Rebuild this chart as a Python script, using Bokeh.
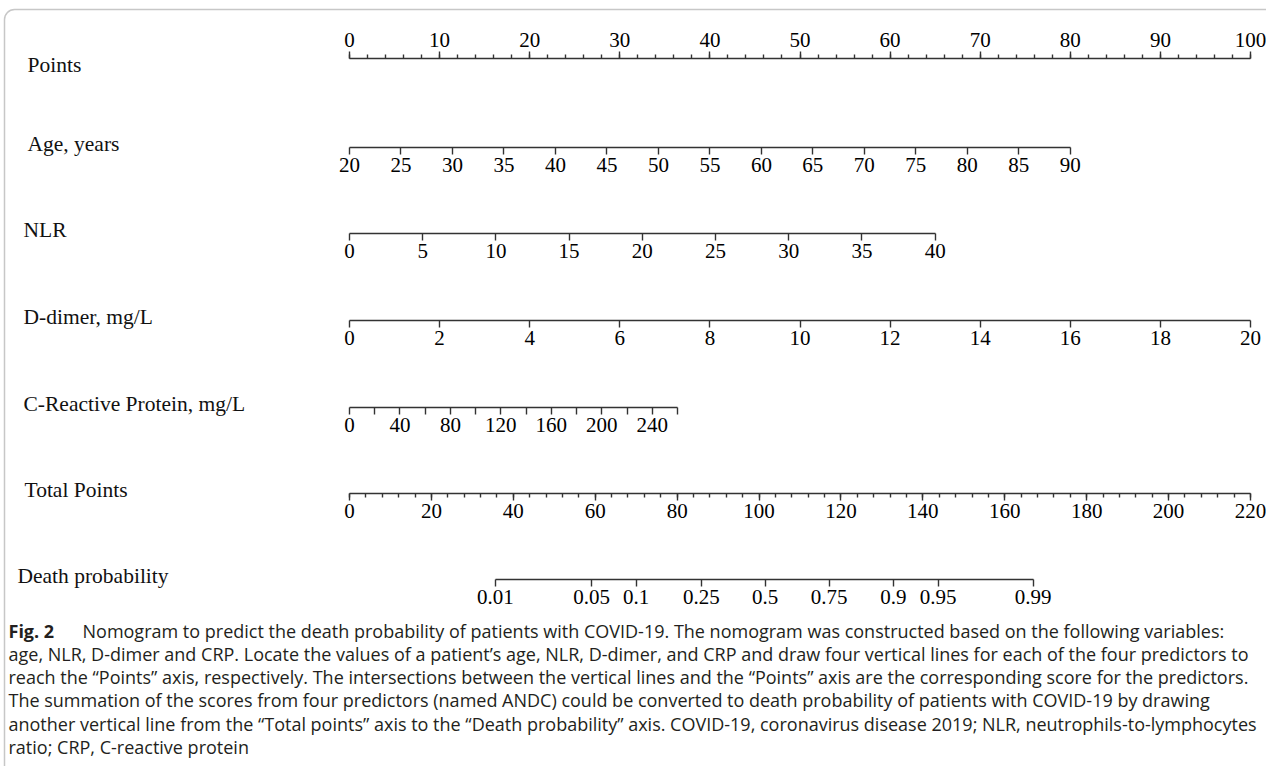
from bokeh.plotting import figure
from bokeh.models import (LinearAxis, Range1d, FixedTicker, SingleIntervalTicker,
                          Label, BoxAnnotation)
from bokeh.embed import file_html
from bokeh.resources import INLINE

# ---------------- data ----------------
row_names = ["Points", "Age, years", "NLR", "D-dimer, mg/L",
             "C-Reactive Protein, mg/L", "Total Points", "Death probability"]

points_ticks = [0, 10, 20, 30, 40, 50, 60, 70, 80, 90, 100]
points_minor_per_major = 5

age_ticks = [20, 25, 30, 35, 40, 45, 50, 55, 60, 65, 70, 75, 80, 85, 90]
age_points_at_max = 80.0

nlr_ticks = [0, 5, 10, 15, 20, 25, 30, 35, 40]
nlr_points_at_max = 65.0

ddimer_ticks = [0, 2, 4, 6, 8, 10, 12, 14, 16, 18, 20]
ddimer_points_at_max = 100.0

crp_ticks = [0, 20, 40, 60, 80, 100, 120, 140, 160, 180, 200, 220, 240, 260]
crp_tick_labels = ["0", "", "40", "", "80", "", "120", "", "160", "", "200", "", "240", ""]
crp_points_at_max = 36.4

total_ticks = [0, 20, 40, 60, 80, 100, 120, 140, 160, 180, 200, 220]
total_minor_per_major = 5

death_tick_labels = ["0.01", "0.05", "0.1", "0.25", "0.5", "0.75", "0.9", "0.95", "0.99"]
death_total_points = [35.6, 59.1, 70.0, 85.9, 101.5, 117.1, 132.8, 143.7, 166.9]

caption_bold = "Fig. 2"
caption_lines = [
    "Nomogram to predict the death probability of patients with COVID-19. The nomogram was constructed based on the following variables:",
    "age, NLR, D-dimer and CRP. Locate the values of a patient\u2019s age, NLR, D-dimer, and CRP and draw four vertical lines for each of the four predictors to",
    "reach the \u201cPoints\u201d axis, respectively. The intersections between the vertical lines and the \u201cPoints\u201d axis are the corresponding score for the predictors.",
    "The summation of the scores from four predictors (named ANDC) could be converted to death probability of patients with COVID-19 by drawing",
    "another vertical line from the \u201cTotal points\u201d axis to the \u201cDeath probability\u201d axis. COVID-19, coronavirus disease 2019; NLR, neutrophils-to-lymphocytes",
    "ratio; CRP, C-reactive protein",
]

# ---------------- layout (pixel coordinates of the picture) ----------------
W, H = 1266, 766
IMG_H = 782
PX0, PX100 = 349.0, 1250.0
row_line_y = [58, 147, 233, 320, 407, 493, 579]
row_label_x = [27, 27, 23, 23, 23, 24, 17]
row_label_dy = [6, -4, -4, -4, -4, -4, -4]
caption_y0, caption_dy = 630, 23.3
caption_x_bold, caption_x_text = 8, 82

LINE = "#333333"
SERIF = "Liberation Serif"
SANS = "Open Sans"


def Y(img_y):
    return IMG_H - img_y


k = (PX100 - PX0) / 100.0
pts_lo = (0 - PX0) / k
pts_hi = (W - PX0) / k


def var_range(vmin, vmax, pmax):
    s = (vmax - vmin) / pmax
    return Range1d(vmin + pts_lo * s, vmin + pts_hi * s)


p = figure(width=W, height=H, x_range=Range1d(0, W),
           y_range=Range1d(Y(H), Y(0)),
           toolbar_location=None, output_backend="svg", min_border=0,
           x_axis_location=None, y_axis_location=None,
           outline_line_color=None, background_fill_color="white")
p.grid.visible = False

p.extra_x_ranges = {
    "pts": Range1d(pts_lo, pts_hi),
    "age": var_range(age_ticks[0], age_ticks[-1], age_points_at_max),
    "nlr": var_range(nlr_ticks[0], nlr_ticks[-1], nlr_points_at_max),
    "dd": var_range(ddimer_ticks[0], ddimer_ticks[-1], ddimer_points_at_max),
    "crp": var_range(crp_ticks[0], crp_ticks[-1], crp_points_at_max),
    "tot": var_range(total_ticks[0], total_ticks[-1], 100.0),
}


def add_axis(side, rname, ticker, row, bounds, overrides=None, minor=False, standoff=3):
    ax = LinearAxis(x_range_name=rname, ticker=ticker, fixed_location=Y(row_line_y[row]),
                    bounds=bounds)
    ax.axis_line_color = LINE
    ax.axis_line_width = 1.4
    ax.major_tick_line_color = LINE
    ax.major_tick_line_width = 1.4
    ax.major_tick_in = 0
    ax.major_tick_out = 7
    if minor:
        ax.minor_tick_line_color = LINE
        ax.minor_tick_line_width = 1.4
        ax.minor_tick_in = 0
        ax.minor_tick_out = 4
    else:
        ax.minor_tick_line_color = None
    ax.major_label_text_font = SERIF
    ax.major_label_text_font_size = "21px"
    ax.major_label_text_color = "black"
    ax.major_label_standoff = standoff
    if overrides:
        ax.major_label_overrides = overrides
    p.add_layout(ax, side)
    return ax


add_axis("above", "pts", SingleIntervalTicker(interval=points_ticks[1] - points_ticks[0],
                                              num_minor_ticks=points_minor_per_major),
         0, (points_ticks[0], points_ticks[-1]), minor=True, standoff=5)
add_axis("below", "age", FixedTicker(ticks=age_ticks, minor_ticks=[]), 1,
         (age_ticks[0], age_ticks[-1]))
add_axis("below", "nlr", FixedTicker(ticks=nlr_ticks, minor_ticks=[]), 2,
         (nlr_ticks[0], nlr_ticks[-1]))
add_axis("below", "dd", FixedTicker(ticks=ddimer_ticks, minor_ticks=[]), 3,
         (ddimer_ticks[0], ddimer_ticks[-1]))
add_axis("below", "crp", FixedTicker(ticks=crp_ticks, minor_ticks=[]), 4,
         (crp_ticks[0], crp_ticks[-1]), overrides=dict(zip(crp_ticks, crp_tick_labels)))
add_axis("below", "tot", SingleIntervalTicker(interval=total_ticks[1] - total_ticks[0],
                                              num_minor_ticks=total_minor_per_major),
         5, (total_ticks[0], total_ticks[-1]), minor=True)
add_axis("below", "tot", FixedTicker(ticks=death_total_points, minor_ticks=[]), 6,
         (death_total_points[0], death_total_points[-1]),
         overrides=dict(zip(death_total_points, death_tick_labels)))

for i, name in enumerate(row_names):
    p.add_layout(Label(x=row_label_x[i], y=Y(row_line_y[i] + row_label_dy[i]), text=name,
                       text_font=SERIF, text_font_size="21.5px", text_color="#111111",
                       text_baseline="middle", text_align="left"))

p.add_layout(Label(x=caption_x_bold, y=Y(caption_y0), text=caption_bold, text_font=SANS,
                   text_font_size="18px", text_font_style="bold", text_color="#231f20",
                   text_baseline="middle", text_align="left"))
for i, line in enumerate(caption_lines):
    x = caption_x_text if i == 0 else caption_x_bold
    p.add_layout(Label(x=x, y=Y(caption_y0 + i * caption_dy), text=line, text_font=SANS,
                       text_font_size="18px", text_color="#231f20",
                       text_baseline="middle", text_align="left"))

p.add_layout(BoxAnnotation(left=4, right=1320, top=Y(9), bottom=Y(820),
                           fill_alpha=0, fill_color=None, line_color="#444444",
                           line_width=1.5, border_radius=10))

open("out.html", "w").write(file_html(p, INLINE))
